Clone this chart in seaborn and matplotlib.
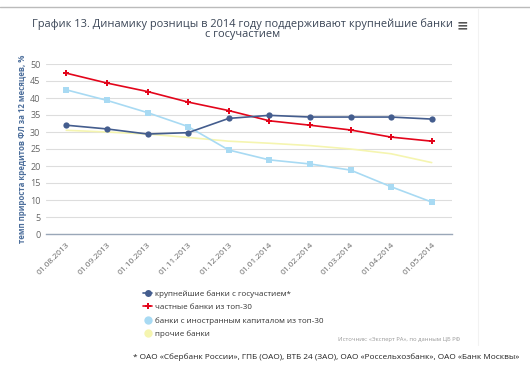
import numpy as np
import pandas as pd
import matplotlib
matplotlib.use('Agg')
import matplotlib.pyplot as plt
import matplotlib.transforms as mtransforms
import seaborn as sns
from matplotlib.lines import Line2D

dates = ['01.08.2013', '01.09.2013', '01.10.2013', '01.11.2013', '01.12.2013',
         '01.01.2014', '01.02.2014', '01.03.2014', '01.04.2014', '01.05.2014']

state_banks = [32.0, 30.9, 29.4, 29.8, 34.0, 34.9, 34.4, 34.4, 34.4, 33.8]
private_top30 = [47.3, 44.4, 41.9, 38.8, 36.3, 33.3, 32.0, 30.6, 28.5, 27.3]
foreign_top30 = [42.4, 39.3, 35.7, 31.6, 24.7, 21.8, 20.6, 18.8, 13.9, 9.4]
other_banks = [30.5, 30.0, 29.4, 28.4, 27.3, 26.7, 26.0, 25.0, 23.6, 21.0]

names = ['крупнейшие банки с госучастием*', 'частные банки из топ-30',
         'банки с иностранным капиталом из топ-30', 'прочие банки']

sns.set_style('white')
plt.rcParams['font.family'] = ['Open Sans', 'DejaVu Sans']

fig = plt.figure(figsize=(5.30, 3.66), dpi=100)
ax = fig.add_axes([46 / 530, 1 - 234 / 366, 406 / 530, 170 / 366])

series = [state_banks, private_top30, foreign_top30, other_banks]
colors = ['#445d8e', '#e3051b', '#a8daf3', '#f5f5b0']
markers = ['o', 'P', 's', 'o']
msizes = [4.5, 4.5, 4.5, 0]
order = [3, 2, 1, 0]

x = np.arange(len(dates))
for i in order:
    df = pd.DataFrame({'x': x, 'y': series[i]})
    sns.lineplot(data=df, x='x', y='y', ax=ax, color=colors[i], lw=1.2,
                 marker=markers[i], markersize=msizes[i],
                 markeredgewidth=0, zorder=3 + (3 - i))

ax.set_xlim(-0.5, len(dates) - 0.5)
ax.set_ylim(0, 50)
ax.set_yticks(range(0, 51, 5))
ax.set_yticklabels([str(v) for v in range(0, 51, 5)], fontsize=6.5, color='#666666')
ax.set_xticks(x)
ax.set_xticklabels(dates, rotation=45, ha='right', rotation_mode='anchor',
                   fontsize=6, color='#666666')
shift = mtransforms.ScaledTranslation(9 / 100, 0, fig.dpi_scale_trans)
for lbl in ax.get_xticklabels():
    lbl.set_transform(lbl.get_transform() + shift)
ax.tick_params(axis='x', length=0, pad=5)
ax.tick_params(axis='y', length=0, pad=4)
ax.set_xticks(np.arange(-0.5, len(dates), 1), minor=True)
ax.tick_params(axis='x', which='minor', length=4, color='#c0d0e0', width=0.8)
ax.grid(axis='y', color='#dddddd', lw=0.8)
ax.set_axisbelow(True)
for s in ['top', 'right', 'left']:
    ax.spines[s].set_visible(False)
ax.spines['bottom'].set_color('#9aa7b8')
ax.spines['bottom'].set_linewidth(1.0)
ax.set_xlabel('')
ax.set_ylabel('темп прироста кредитов ФЛ за 12 месяцев, %', fontsize=5.7,
              fontweight='bold', color='#4d6f9c', labelpad=2)

handles = [Line2D([0], [0], color=colors[0], lw=1.2, marker='o',
                  markersize=5, markeredgewidth=0),
           Line2D([0], [0], color=colors[1], lw=1.2, marker='P',
                  markersize=5, markeredgewidth=0),
           Line2D([0], [0], color=colors[2], lw=0, marker='o',
                  markersize=6, markeredgewidth=0),
           Line2D([0], [0], color=colors[3], lw=0, marker='o',
                  markersize=6, markeredgewidth=0)]
leg = fig.legend(handles, names, loc='upper left',
                 bbox_to_anchor=(136 / 530, 1 - 283 / 366), frameon=False,
                 fontsize=5.8, handlelength=1.1, handletextpad=0.4,
                 labelspacing=0.7)
for t in leg.get_texts():
    t.set_color('#333333')

fig.text(243 / 530, 1 - 24 / 366,
         'График 13. Динамику розницы в 2014 году поддерживают крупнейшие банки',
         ha='center', va='center', fontsize=7.9, color='#3a4556')
fig.text(243 / 530, 1 - 35 / 366, 'с госучастием',
         ha='center', va='center', fontsize=7.9, color='#3a4556')
fig.text(462 / 530, 1 - 25 / 366, '≡', ha='center', va='center',
         fontsize=10, color='#555555', fontweight='bold',
         family=['DejaVu Sans'])

fig.text(460 / 530, 1 - 339 / 366, 'Источник: «Эксперт РА», по данным ЦБ РФ',
         ha='right', va='center', fontsize=4.2, color='#999999')
fig.text(133 / 530, 1 - 357 / 366,
         '* ОАО «Сбербанк России», ГПБ (ОАО), ВТБ 24 (ЗАО), ОАО «Россельхозбанк», ОАО «Банк Москвы»',
         ha='left', va='center', fontsize=5.95, color='#222222')

fig.add_artist(Line2D([0, 1], [1 - 6.5 / 366, 1 - 6.5 / 366], color='#bbbbbb',
                      lw=1.0, transform=fig.transFigure))
fig.add_artist(Line2D([478 / 530, 478 / 530], [1 - 8 / 366, 1 - 345 / 366],
                      color='#f2f2f2', lw=0.8, transform=fig.transFigure))

fig.savefig('out.png', dpi=100)
